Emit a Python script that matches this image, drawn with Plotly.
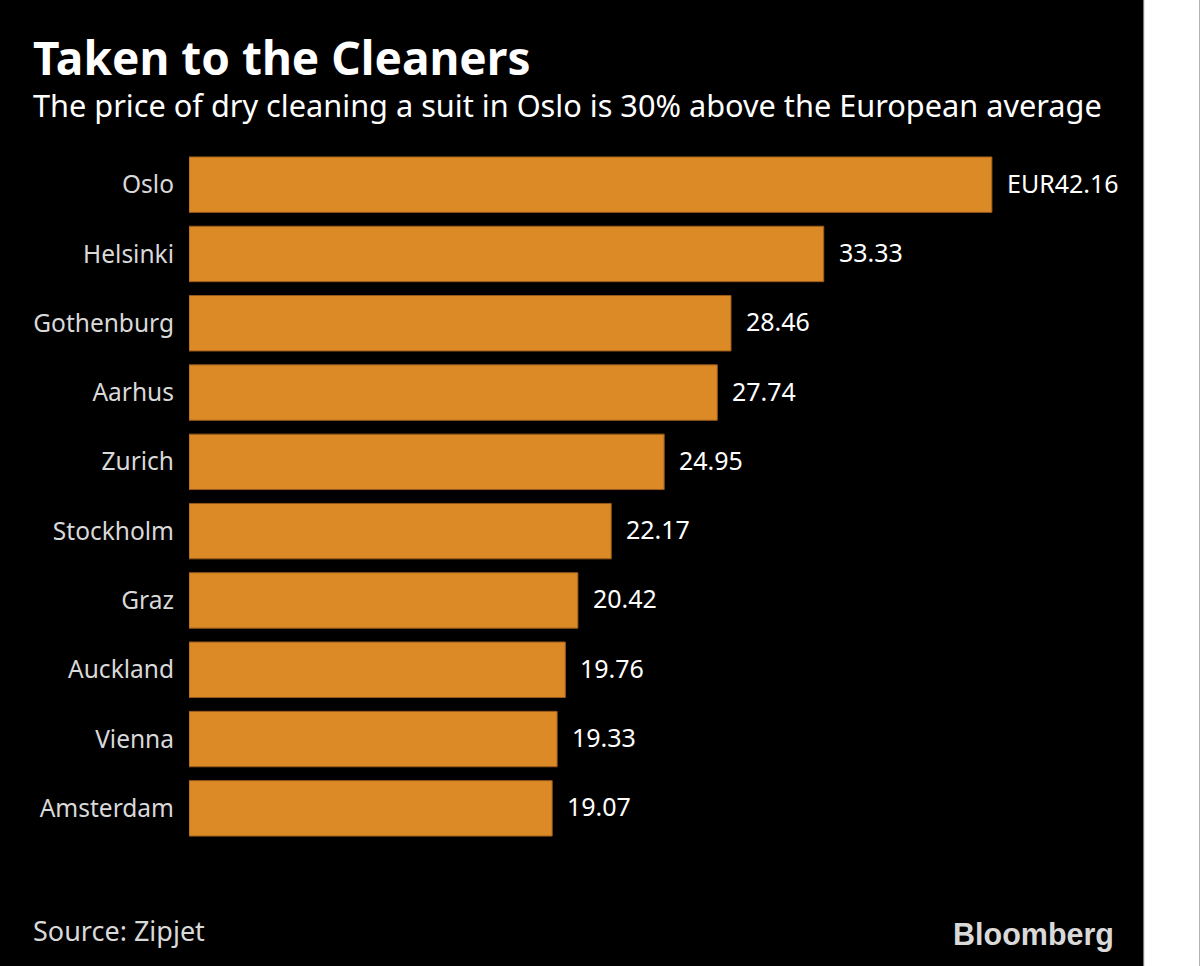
import plotly.graph_objects as go

cities = ["Oslo", "Helsinki", "Gothenburg", "Aarhus", "Zurich", "Stockholm",
          "Graz", "Auckland", "Vienna", "Amsterdam"]
prices = [42.16, 33.33, 28.46, 27.74, 24.95, 22.17, 20.42, 19.76, 19.33, 19.07]
value_labels = ["EUR42.16", "33.33", "28.46", "27.74", "24.95", "22.17",
                "20.42", "19.76", "19.33", "19.07"]

title = "Taken to the Cleaners"
subtitle = "The price of dry cleaning a suit in Oslo is 30% above the European average"
source = "Source: Zipjet"

FONT = "Noto Sans"
W, H = 1200, 966
L, T, B = 189, 150, 123
XMAX = 45.0
plot_w = XMAX * 19.05
R = W - L - plot_w
PH = H - T - B

fig = go.Figure()
fig.add_trace(go.Bar(
    x=prices, y=cities, orientation="h",
    marker=dict(color="#dc8a26", line=dict(color="#9a5a1c", width=1)),
    hoverinfo="skip",
))

for c, v, lab in zip(cities, prices, value_labels):
    fig.add_annotation(x=v, y=c, xref="x", yref="y", text=lab, showarrow=False,
                       xanchor="left", yanchor="middle", xshift=13, yshift=2,
                       font=dict(family=FONT, size=25, color="#ffffff"))

# white strip on right
fig.add_shape(type="rect", xref="paper", yref="paper",
              x0=(1144 - L) / plot_w, x1=(W - L) / plot_w,
              y0=-B / PH, y1=(H - B) / PH,
              fillcolor="#ffffff", line=dict(width=0), layer="above")
fig.add_shape(type="line", xref="paper", yref="paper",
              x0=(1144 - L) / plot_w, x1=(1144 - L) / plot_w,
              y0=-B / PH, y1=(H - B) / PH,
              line=dict(color="#888888", width=1), layer="above")

fig.add_annotation(xref="paper", yref="paper", x=(31 - L) / plot_w, y=1 + (T - 57) / PH,
                   text="<b>" + title + "</b>", showarrow=False, xanchor="left", yanchor="middle",
                   font=dict(family=FONT, size=46, color="#ffffff"))
fig.add_annotation(xref="paper", yref="paper", x=(31 - L) / plot_w, y=1 + (T - 105) / PH,
                   text=subtitle, showarrow=False, xanchor="left", yanchor="middle",
                   font=dict(family=FONT, size=30.7, color="#ffffff"))
fig.add_annotation(xref="paper", yref="paper", x=(31 - L) / plot_w, y=-(930 - (H - B)) / PH,
                   text=source, showarrow=False, xanchor="left", yanchor="middle",
                   font=dict(family=FONT, size=27, color="#d9d9d9"))
fig.add_annotation(xref="paper", yref="paper", x=(1116 - L) / plot_w, y=-(934 - (H - B)) / PH,
                   text="<b>Bloomberg</b>", showarrow=False, xanchor="right", yanchor="middle",
                   font=dict(family="Liberation Sans", size=30.5, color="#d9d9d9"))

fig.update_layout(
    width=W, height=H,
    margin=dict(l=L, r=R, t=T, b=B, pad=0),
    paper_bgcolor="#000000", plot_bgcolor="#000000",
    showlegend=False, bargap=0.2,
    xaxis=dict(range=[0, XMAX], visible=False, fixedrange=True),
    yaxis=dict(autorange="reversed", showgrid=False, zeroline=False, showline=False,
               ticks="", ticklabelstandoff=14,
               tickfont=dict(family=FONT, size=24.5, color="#d9d9d9"), fixedrange=True),
)

fig.write_html("out.html", config={"displayModeBar": False},
               post_script="document.body.style.margin='0';")
